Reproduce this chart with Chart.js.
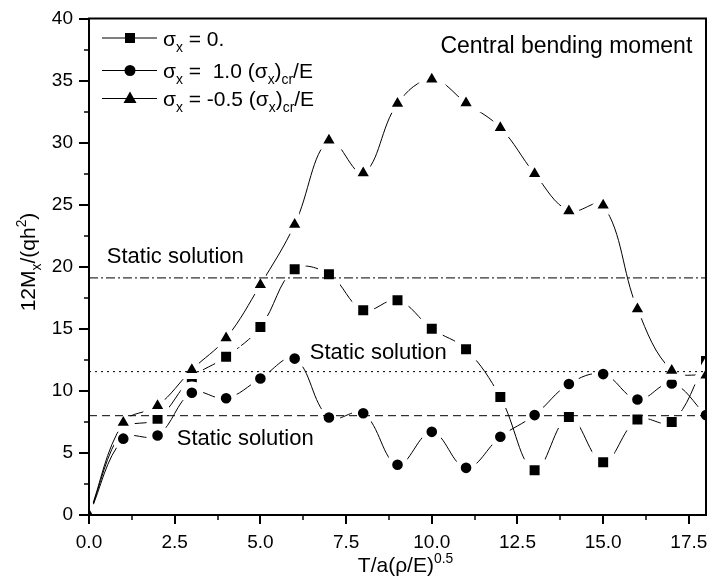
<!DOCTYPE html>
<html><head><meta charset="utf-8">
<script src="https://cdn.jsdelivr.net/npm/chart.js@4/dist/chart.umd.min.js"></script>
<style>html,body{margin:0;padding:0;background:#fff;} #wrap{width:726px;height:579px;}</style>
</head><body><div id="wrap"><canvas id="c" width="726" height="579"></canvas></div>
<script>
// ---- data ----
const tValues   = [0, 1, 2, 3, 4, 5, 6, 7, 8, 9, 10, 11, 12, 13, 14, 15, 16, 17, 18];
const sigmaZero = [0, 6.9, 7.75, 11.05, 12.75, 15.15, 19.8, 19.4, 16.5, 17.3, 15.0, 13.35, 9.5, 3.6, 7.9, 4.25, 7.7, 7.5, 12.4];
const sigmaPos  = [0, 6.15, 6.4, 9.85, 9.4, 11.0, 12.6, 7.85, 8.2, 4.05, 6.7, 3.8, 6.3, 8.05, 10.55, 11.35, 9.3, 10.6, 8.05];
const sigmaNeg  = [0, 7.45, 8.8, 11.7, 14.25, 18.55, 23.4, 30.2, 27.55, 33.15, 35.1, 33.2, 31.2, 27.5, 24.5, 24.95, 16.6, 11.65, 11.25];
const staticLevels = [19.1, 11.55, 8.0];
const xTickStep = 2.5, yTickStep = 5;
const xMin = 0, xMax = 18, yMin = 0, yMax = 40;

const FONT = '"Liberation Sans", Arial, Helvetica, sans-serif';

function pts(xs, ys) { return xs.map((x, i) => ({ x: x, y: ys[i] })); }
function hline(v) { return [{ x: xMin, y: v }, { x: xMax, y: v }]; }

function drawRich(ctx, segs, x, y, size, align) {
  let total = 0;
  const parts = segs.map(s => {
    const fs = (s.sub || s.sup) ? size * 0.66 : size;
    ctx.font = fs + 'px ' + FONT;
    const w = ctx.measureText(s.t).width;
    total += w;
    return { t: s.t, fs: fs, w: w, dy: s.sub ? size * 0.3 : (s.sup ? -size * 0.45 : 0) };
  });
  let cx = align === 'center' ? x - total / 2 : (align === 'right' ? x - total : x);
  ctx.textAlign = 'left';
  ctx.textBaseline = 'alphabetic';
  parts.forEach(p => { ctx.font = p.fs + 'px ' + FONT; ctx.fillText(p.t, cx, y + p.dy); cx += p.w; });
}

function marker(ctx, style, x, y) {
  ctx.fillStyle = '#000';
  ctx.beginPath();
  if (style === 'rect') { ctx.rect(x - 5, y - 5, 10, 10); }
  else if (style === 'circle') { ctx.arc(x, y, 5.5, 0, Math.PI * 2); }
  else { ctx.moveTo(x, y - 7); ctx.lineTo(x + 6.5, y + 4.5); ctx.lineTo(x - 6.5, y + 4.5); ctx.closePath(); }
  ctx.fill();
}

const legendItems = [
  { style: 'rect', segs: [{ t: 'σ' }, { t: 'x', sub: 1 }, { t: ' = 0.' }] },
  { style: 'circle', segs: [{ t: 'σ' }, { t: 'x', sub: 1 }, { t: ' =  1.0 (σ' }, { t: 'x', sub: 1 }, { t: ')' }, { t: 'cr', sub: 1 }, { t: '/E' }] },
  { style: 'triangle', segs: [{ t: 'σ' }, { t: 'x', sub: 1 }, { t: ' = -0.5 (σ' }, { t: 'x', sub: 1 }, { t: ')' }, { t: 'cr', sub: 1 }, { t: '/E' }] }
];
const staticNotes = [
  { text: 'Static solution', x: 0.52, y: 20.3 },
  { text: 'Static solution', x: 6.44, y: 12.6 },
  { text: 'Static solution', x: 2.56, y: 5.6 }
];

const decor = {
  id: 'decor',
  afterDraw(chart) {
    const ctx = chart.ctx, a = chart.chartArea;
    const xs = chart.scales.x, ys = chart.scales.y;
    ctx.save();
    // minor ticks
    ctx.strokeStyle = '#000'; ctx.lineWidth = 1.5;
    for (let v = xTickStep / 2; v < xMax; v += xTickStep) {
      const px = Math.round(xs.getPixelForValue(v));
      ctx.beginPath(); ctx.moveTo(px, a.bottom); ctx.lineTo(px, a.bottom + 5); ctx.stroke();
    }
    for (let v = yTickStep / 2; v < yMax; v += yTickStep) {
      const py = Math.round(ys.getPixelForValue(v));
      ctx.beginPath(); ctx.moveTo(a.left, py); ctx.lineTo(a.left - 5, py); ctx.stroke();
    }
    // frame
    ctx.lineWidth = 2;
    ctx.strokeRect(a.left, a.top, a.right - a.left, a.bottom - a.top);
    // text notes
    ctx.fillStyle = '#000';
    ctx.font = '22px ' + FONT;
    ctx.textBaseline = 'alphabetic';
    ctx.textAlign = 'left';
    staticNotes.forEach(n => ctx.fillText(n.text, xs.getPixelForValue(n.x), ys.getPixelForValue(n.y)));
    ctx.textAlign = 'right';
    ctx.font = '23px ' + FONT;
    ctx.fillText('Central bending moment', xs.getPixelForValue(17.6), ys.getPixelForValue(37.2));
    // legend
    const rows = [38, 70.5, 98.5];
    legendItems.forEach((it, i) => {
      const y = rows[i];
      ctx.strokeStyle = '#000'; ctx.lineWidth = 1;
      ctx.beginPath(); ctx.moveTo(102, y); ctx.lineTo(157, y); ctx.stroke();
      marker(ctx, it.style, 130, y);
      ctx.fillStyle = '#000';
      drawRich(ctx, it.segs, 163, y + 7.5, 21, 'left');
    });
    // axis titles
    drawRich(ctx, [{ t: 'T/a(ρ/E)' }, { t: '0.5', sup: 1 }], (a.left + a.right) / 2 + 8, 572, 21, 'center');
    ctx.save();
    ctx.translate(35, 262);
    ctx.rotate(-Math.PI / 2);
    drawRich(ctx, [{ t: '12M' }, { t: 'x', sub: 1 }, { t: '/(qh' }, { t: '2', sup: 1 }, { t: ')' }], 0, 0, 21, 'center');
    ctx.restore();
    ctx.restore();
  }
};

const seriesCommon = {
  showLine: true, borderColor: '#000', borderWidth: 1, tension: 0.38,
  pointBackgroundColor: '#000', pointBorderColor: '#fff', pointBorderWidth: 6
};

new Chart(document.getElementById('c'), {
  type: 'scatter',
  data: {
    datasets: [
      Object.assign({ label: 'σx = 0.', data: pts(tValues, sigmaZero), pointStyle: 'rect', pointRadius: 11.3, order: 3 }, seriesCommon),
      Object.assign({ label: 'σx = 1.0 (σx)cr/E', data: pts(tValues, sigmaPos), pointStyle: 'circle', pointRadius: 8.3, order: 2 }, seriesCommon),
      Object.assign({ label: 'σx = -0.5 (σx)cr/E', data: pts(tValues, sigmaNeg), pointStyle: 'triangle', pointRadius: 12.5, order: 1 }, seriesCommon),
      { label: 'static A', data: hline(staticLevels[0]), showLine: true, pointRadius: 0, borderColor: '#000', borderWidth: 1, borderDash: [9, 3, 2, 3], order: 0 },
      { label: 'static B', data: hline(staticLevels[1]), showLine: true, pointRadius: 0, borderColor: '#000', borderWidth: 1, borderDash: [2, 4], order: 0 },
      { label: 'static C', data: hline(staticLevels[2]), showLine: true, pointRadius: 0, borderColor: '#000', borderWidth: 1, borderDash: [8, 5], order: 0 }
    ]
  },
  options: {
    responsive: false, animation: false, devicePixelRatio: 1,
    layout: { padding: { left: 0, top: 16, right: 20, bottom: 0 } },
    plugins: { legend: { display: false }, tooltip: { enabled: false } },
    scales: {
      x: {
        type: 'linear', position: 'bottom', min: xMin, max: xMax,
        afterFit: s => { s.height = 64; },
        ticks: { stepSize: xTickStep, includeBounds: false, color: '#000', padding: 7,
                 font: { size: 19, family: FONT }, callback: v => Number(v).toFixed(1), maxRotation: 0, autoSkip: false },
        grid: { drawOnChartArea: false, drawTicks: true, tickLength: 9, color: '#000', lineWidth: 2 },
        border: { display: true, color: '#000', width: 2 }
      },
      y: {
        type: 'linear', position: 'left', min: yMin, max: yMax,
        afterFit: s => { s.width = 89; },
        ticks: { stepSize: yTickStep, color: '#000', padding: 6, font: { size: 19, family: FONT }, autoSkip: false },
        grid: { drawOnChartArea: false, drawTicks: true, tickLength: 10, color: '#000', lineWidth: 2 },
        border: { display: true, color: '#000', width: 2 }
      }
    }
  },
  plugins: [decor]
});
</script>
</body></html>
